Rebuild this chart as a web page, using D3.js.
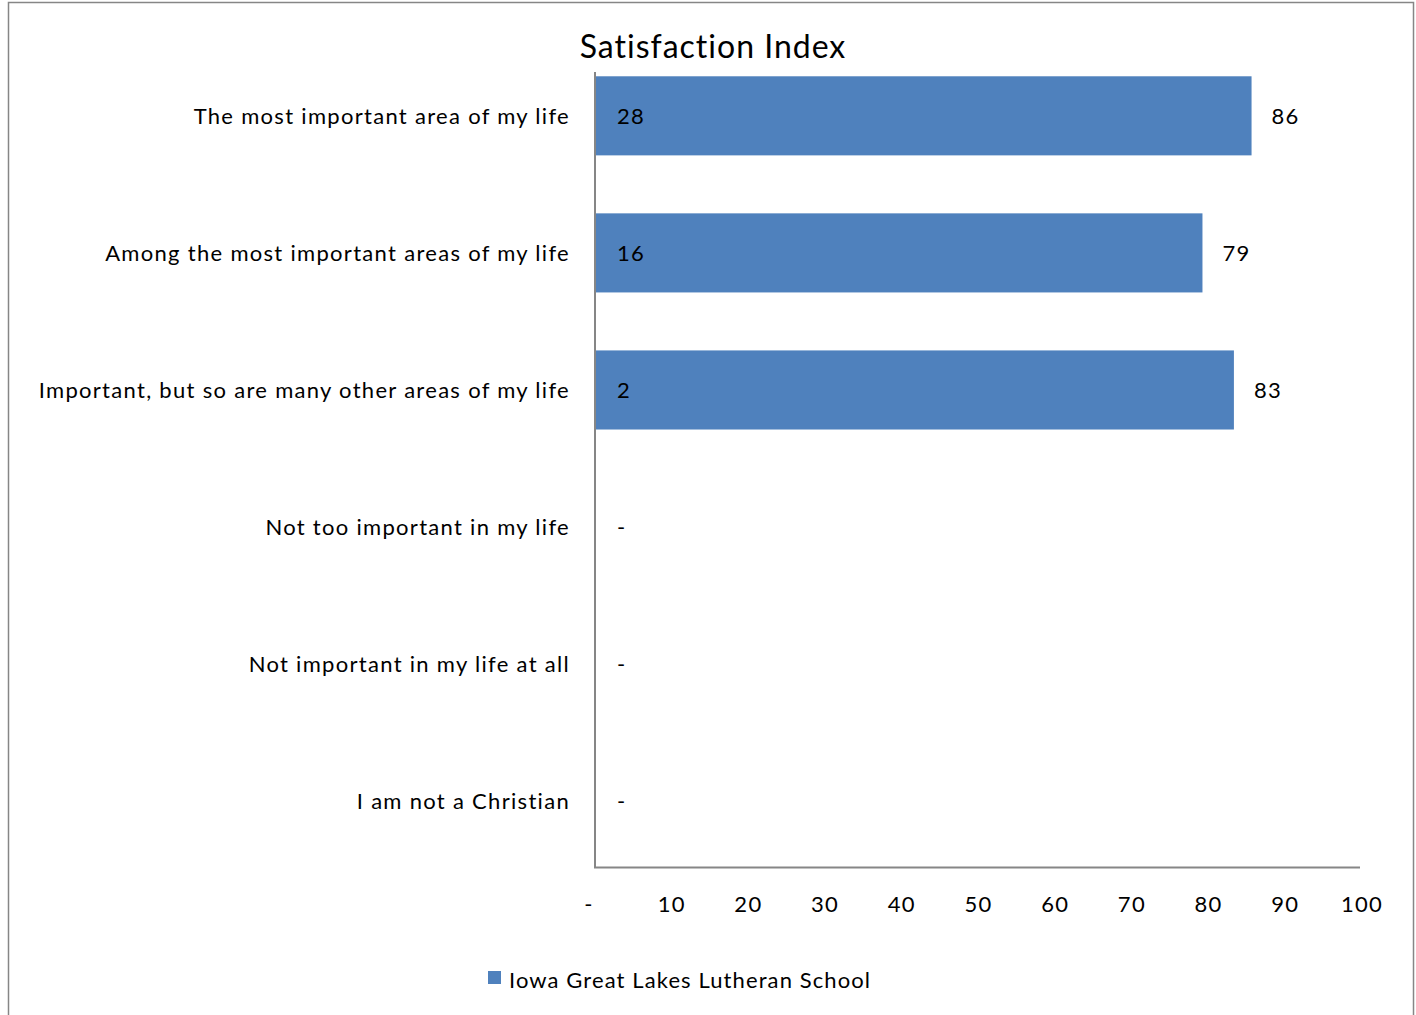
<!DOCTYPE html>
<html>
<head>
<meta charset="utf-8">
<script src="https://cdn.jsdelivr.net/npm/d3@7"></script>
<style>
  html, body { margin: 0; padding: 0; background: #fff; }
  svg { display: block; }
  text { font-family: Lato, "Open Sans", sans-serif; fill: #000; }
</style>
</head>
<body>
<svg id="chart" width="1416" height="1015"></svg>
<script>
const categories = [
  "The most important area of my life",
  "Among the most important areas of my life",
  "Important, but so are many other areas of my life",
  "Not too important in my life",
  "Not important in my life at all",
  "I am not a Christian"
];
const indexValues = [85.6, 79.2, 83.3, 0, 0, 0];
const counts = [28, 16, 2, null, null, null];
const xTicks = [0, 10, 20, 30, 40, 50, 60, 70, 80, 90, 100];
const seriesName = "Iowa Great Lakes Lutheran School";
const title = "Satisfaction Index";

const svg = d3.select("#chart");
const color = "#4F81BD";
const LS = "1.3px";

// outer border
svg.append("rect").attr("x", 8.5).attr("y", 2.5).attr("width", 1405).attr("height", 1030)
  .attr("fill", "none").attr("stroke", "#868686").attr("stroke-width", 1.5);

const x = d3.scaleLinear().domain([0, 100]).range([595, 1362]);
const y = d3.scaleBand().domain(categories).range([47.5, 869.5]).paddingInner(0.423).paddingOuter(0.21);

// title
svg.append("text").attr("x", 713).attr("y", 58).attr("text-anchor", "middle")
  .style("font-size", "32px").style("letter-spacing", "1px").text(title);

// bars
svg.selectAll("rect.bar").data(categories.map((c, i) => ({c, v: indexValues[i], n: counts[i]})))
  .join("rect").attr("class", "bar")
  .attr("x", x(0)).attr("y", d => y(d.c))
  .attr("width", d => x(d.v) - x(0)).attr("height", y.bandwidth())
  .attr("fill", color);

// axis lines
svg.append("line").attr("x1", 595).attr("x2", 595).attr("y1", 72).attr("y2", 867.5)
  .attr("stroke", "#868686").attr("stroke-width", 2);
svg.append("line").attr("x1", 594).attr("x2", 1360).attr("y1", 867.5).attr("y2", 867.5)
  .attr("stroke", "#868686").attr("stroke-width", 2);

// category labels
svg.selectAll("text.cat").data(categories).join("text").attr("class", "cat")
  .attr("x", 570).attr("y", d => y(d) + y.bandwidth() / 2)
  .attr("dy", "0.35em").attr("text-anchor", "end")
  .style("font-size", "22px").style("letter-spacing", LS).text(d => d);

// inside labels (counts) or dash
svg.selectAll("text.cnt").data(categories.map((c, i) => ({c, n: counts[i]})))
  .join("text").attr("class", "cnt")
  .attr("x", 617).attr("y", d => y(d.c) + y.bandwidth() / 2)
  .attr("dy", "0.35em").style("font-size", "22px").style("letter-spacing", LS)
  .text(d => d.n == null ? "-" : d.n);

// outside value labels
svg.selectAll("text.val").data(categories.map((c, i) => ({c, v: indexValues[i]})).filter(d => d.v > 0))
  .join("text").attr("class", "val")
  .attr("x", d => x(d.v) + 20).attr("y", d => y(d.c) + y.bandwidth() / 2)
  .attr("dy", "0.35em").style("font-size", "22px").style("letter-spacing", LS)
  .text(d => d3.format(".0f")(d.v));

// x tick labels
svg.selectAll("text.tick").data(xTicks).join("text").attr("class", "tick")
  .attr("x", d => d === 0 ? x(d) - 6 : x(d)).attr("y", 904).attr("dy", "0.35em")
  .attr("text-anchor", "middle").style("font-size", "22px").style("letter-spacing", LS)
  .text(d => d === 0 ? "-" : d);

// legend
svg.append("rect").attr("x", 488).attr("y", 971).attr("width", 13).attr("height", 13).attr("fill", color);
svg.append("text").attr("x", 509).attr("y", 980).attr("dy", "0.35em")
  .style("font-size", "22px").style("letter-spacing", "1.1px").text(seriesName);
</script>
</body>
</html>
